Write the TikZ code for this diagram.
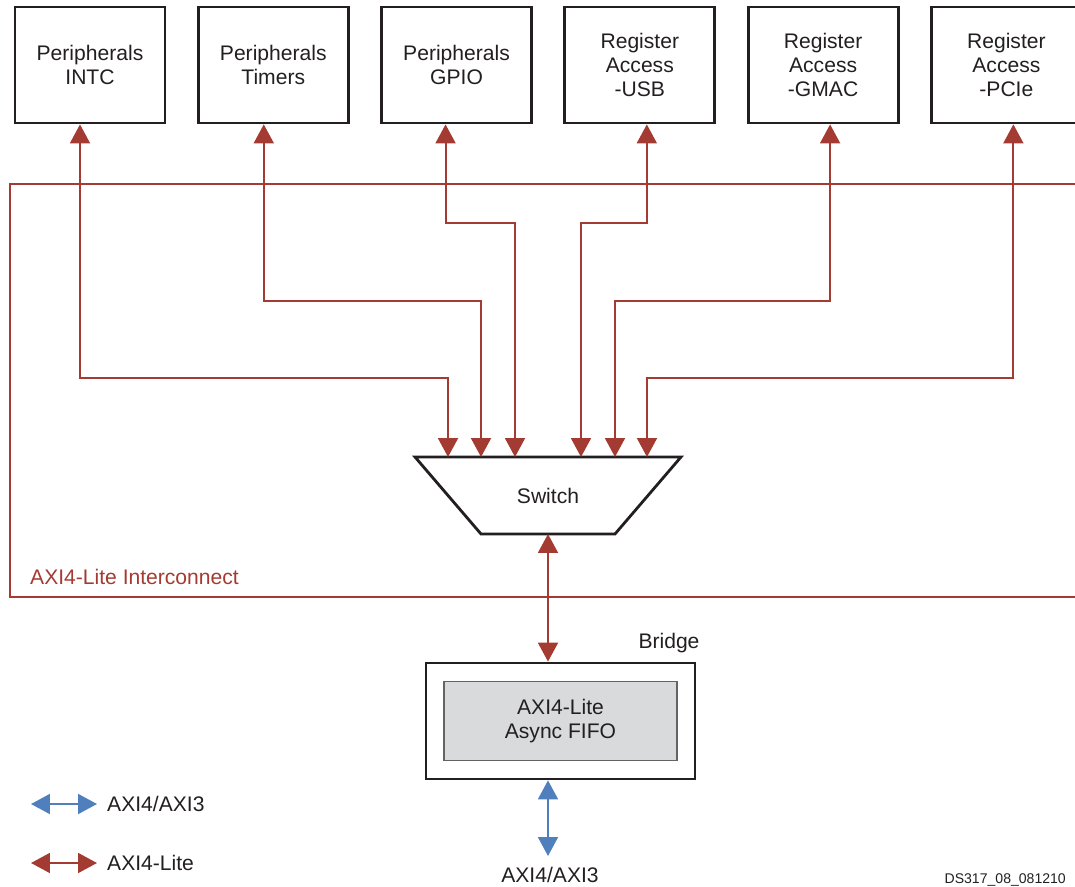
\documentclass[tikz,border=0pt]{standalone}
\usepackage{fontspec}
\setmainfont{Liberation Sans}
\usetikzlibrary{arrows.meta,positioning,calc}
\definecolor{litered}{RGB}{163,59,51}
\definecolor{axiblue}{RGB}{79,127,189}
\definecolor{fifogray}{RGB}{217,218,220}
\definecolor{ink}{RGB}{35,31,32}
\tikzset{
bus/.style = { line width = 1.1pt, > = {Triangle[length = 0.38cm, width = 0.4cm]} },
lite/.style = { bus, draw = litered, <-> },
axi/.style = { bus, draw = axiblue, <-> },
wire/.style = { bus, draw = litered },
blk/.style = { draw = ink, line width = 1.6pt, minimum width = 3cm, minimum height = 2.32cm, align = center },
switchbox/.style = { minimum width = 5.32cm, minimum height = 1.54cm, outer sep = 0pt },
bridge/.style = { draw = ink, line width = 1.6pt, minimum width = 5.38cm, minimum height = 2.32cm },
fifo/.style = { draw = ink!70, fill = fifogray, line width = 0.7pt, minimum width = 4.66cm, minimum height = 1.58cm, align = center },
every node/.style = { text = ink, font = \fontsize{12}{13.8}\selectfont }
}

\begin{document}
\begin{tikzpicture}[x = 0.02cm, y = -0.02cm, node distance = 0.61cm]
\useasboundingbox (0,0) rectangle (1075,886);
\clip (0,0) rectangle (1075,886);

% top row of slaves
\node[blk] (intc) at (90,65) {Peripherals\\INTC};
\node[blk, right = of intc] (tmr) {Peripherals\\Timers};
\node[blk, right = of tmr] (gpio) {Peripherals\\GPIO};
\node[blk, right = of gpio] (usb) {Register\\Access\\-USB};
\node[blk, right = of usb] (gmac) {Register\\Access\\-GMAC};
\node[blk, right = of gmac] (pcie) {Register\\Access\\-PCIe};

% interconnect frame
\draw[wire] (1080,184) -| (10,597) -- (1080,597);
\node[text = litered, anchor = west] (icn) at (24,577) {AXI4-Lite Interconnect};

% switch
\node[switchbox] (sw) at (548,495.5) {Switch};
\draw[draw = ink, line width = 1.6pt] (sw.north west) -- (sw.north east)
	-- ([xshift = -1.32cm]sw.south east) -- ([xshift = 1.32cm]sw.south west) -- cycle;

\draw[lite] ([xshift = -.2cm]intc.south) -- ++(0,254) -| ([xshift = -2cm]sw.north);
\draw[lite] ([xshift = -.19cm]tmr.south) -- ++(0,177) -| ([xshift = -1.34cm]sw.north);
\draw[lite] ([xshift = -.22cm]gpio.south) -- ++(0,99) -| ([xshift = -.66cm]sw.north);
\draw[lite] ([xshift = .14cm]usb.south) -- ++(0,99) -| ([xshift = .66cm]sw.north);
\draw[lite] ([xshift = .14cm]gmac.south) -- ++(0,177) -| ([xshift = 1.34cm]sw.north);
\draw[lite] ([xshift = .14cm]pcie.south) -- ++(0,254) -| ([xshift = 1.98cm]sw.north);

% bridge
\node[bridge] (br) at (560.5,721) {};
\node[fifo] (fifo) at (br.center) {AXI4-Lite\\Async FIFO};
\node (brlbl) at (669,643) {Bridge};
\draw[lite] (sw.south) -- (sw.south |- br.north);
\coordinate (ext) at (548,856);
\draw[axi] (sw.south |- br.south) -- (ext);
\node (extlbl) at (550,875) {AXI4/AXI3};

% key
\node[anchor = west] (keyaxi) at (101,804) {AXI4/AXI3};
\node[anchor = west] (keylite) at (101,863) {AXI4-Lite};
\draw[axi] ($(keyaxi.west) + (-70,0)$) -- ($(keyaxi.west) + (-4,0)$);
\draw[lite] ($(keylite.west) + (-70,0)$) -- ($(keylite.west) + (-4,0)$);

\node[anchor = east, font = \fontsize{8}{9}\selectfont] (dsid) at (1072,880) {DS317\_08\_081210};
\end{tikzpicture}
\end{document}
